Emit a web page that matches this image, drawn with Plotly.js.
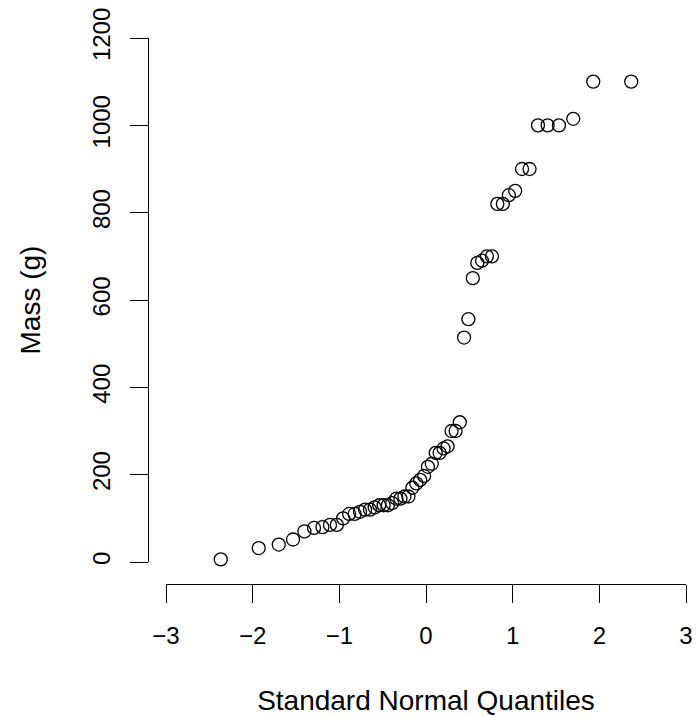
<!DOCTYPE html>
<html>
<head>
<meta charset="utf-8">
<script src="https://cdn.plot.ly/plotly-3.0.1.min.js"></script>
<style>html,body{margin:0;padding:0;background:#fff;}#chart{width:696px;height:717px;}</style>
</head>
<body>
<div id="chart"></div>
<script>
// Theoretical standard normal quantiles (x) for the 56 sorted observations
var quantiles = [
  -2.368, -1.930, -1.699, -1.534, -1.403, -1.292, -1.195, -1.108, -1.029, -0.956,
  -0.887, -0.823, -0.761, -0.703, -0.647, -0.592, -0.540, -0.489, -0.439, -0.390,
  -0.342, -0.295, -0.249, -0.203, -0.157, -0.112, -0.067, -0.022,
   0.022,  0.067,  0.112,  0.157,  0.203,  0.249,  0.295,  0.342,  0.390,  0.439,
   0.489,  0.540,  0.592,  0.647,  0.703,  0.761,  0.823,  0.887,  0.956,  1.029,
   1.108,  1.195,  1.292,  1.403,  1.534,  1.699,  1.930,  2.368
];
// Sorted sample masses (g)
var massG = [
  5.9, 32, 40, 51.5, 70, 78, 80, 85, 85, 100,
  110, 110, 115, 120, 120, 125, 130, 130, 130, 135,
  145, 145, 150, 150, 170, 180, 188, 197, 218, 225,
  250, 250, 260, 265, 300, 300, 320, 514, 556, 650,
  685, 690, 700, 700, 820, 820, 840, 850, 900, 900,
  1000, 1000, 1000, 1015, 1100, 1100
];
var xTicks = [-3, -2, -1, 0, 1, 2, 3];
var yTicks = [0, 200, 400, 600, 800, 1000, 1200];
var xTitle = 'Standard Normal Quantiles';
var yTitle = 'Mass (g)';

var font = 'Liberation Sans, Arial, Helvetica, sans-serif';

var trace = {
  type: 'scatter',
  mode: 'markers',
  x: quantiles,
  y: massG,
  cliponaxis: false,
  marker: {
    symbol: 'circle-open',
    size: 13,
    color: '#000',
    line: {color: '#000', width: 1.3}
  },
  hoverinfo: 'x+y'
};

var layout = {
  width: 696,
  height: 717,
  margin: {l: 148, r: 10, t: 38, b: 133},
  paper_bgcolor: '#fff',
  plot_bgcolor: '#fff',
  showlegend: false,
  font: {family: font, color: '#000', size: 24},
  xaxis: {
    range: [-3, 3],
    domain: [18 / 538, 1],
    anchor: 'free',
    position: 0,
    tickmode: 'array',
    tickvals: xTicks,
    ticks: 'outside',
    ticklen: 18,
    tickwidth: 1.3,
    tickcolor: '#000',
    showline: true,
    linecolor: '#000',
    linewidth: 1.3,
    showgrid: false,
    zeroline: false,
    ticklabelstandoff: 12,
    tickfont: {family: font, size: 24, color: '#000'},
    title: {text: xTitle, font: {family: font, size: 28, color: '#000'}, standoff: 42},
    automargin: false
  },
  yaxis: {
    range: [0, 1200],
    domain: [22 / 546, 1],
    anchor: 'free',
    position: 0,
    tickmode: 'array',
    tickvals: yTicks,
    ticks: 'outside',
    ticklen: 18,
    tickwidth: 1.3,
    tickcolor: '#000',
    tickangle: -90,
    showline: true,
    linecolor: '#000',
    linewidth: 1.3,
    showgrid: false,
    zeroline: false,
    ticklabelstandoff: 10,
    tickfont: {family: font, size: 24, color: '#000'},
    title: {text: yTitle, font: {family: font, size: 28, color: '#000'}, standoff: 38},
    automargin: false
  }
};

Plotly.newPlot('chart', [trace], layout, {displayModeBar: false, staticPlot: false});
</script>
</body>
</html>
